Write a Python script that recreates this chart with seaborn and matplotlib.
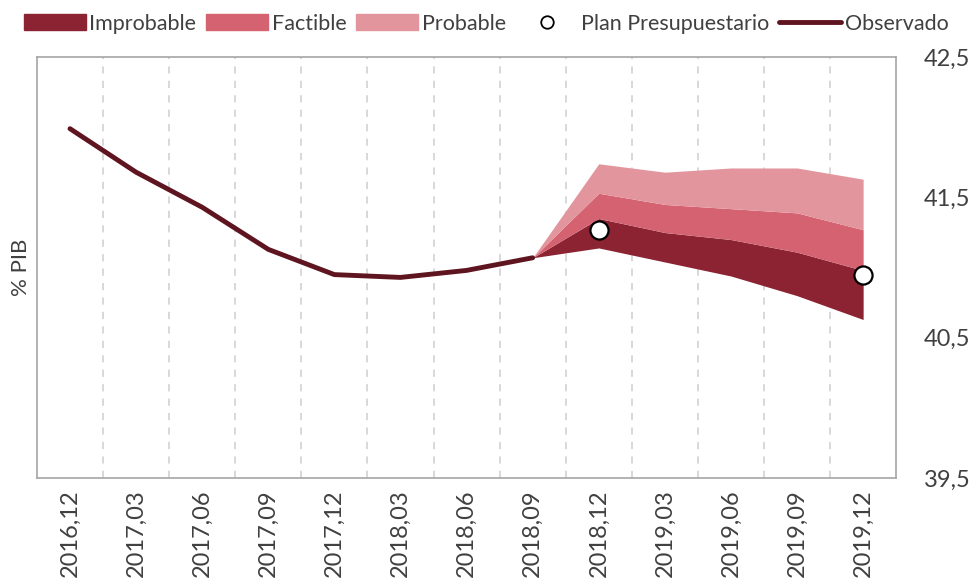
import numpy as np
import matplotlib.pyplot as plt
import seaborn as sns
from matplotlib.patches import Patch
from matplotlib.lines import Line2D

periods = ["2016,12", "2017,03", "2017,06", "2017,09", "2017,12", "2018,03", "2018,06",
           "2018,09", "2018,12", "2019,03", "2019,06", "2019,09", "2019,12"]
observed = [41.99, 41.68, 41.43, 41.13, 40.95, 40.93, 40.98, 41.07]

fan_periods = ["2018,09", "2018,12", "2019,03", "2019,06", "2019,09", "2019,12"]
fan_low = [41.07, 41.14, 41.04, 40.94, 40.80, 40.63]
improbable_top = [41.07, 41.35, 41.25, 41.20, 41.11, 40.98]
factible_top = [41.07, 41.53, 41.45, 41.42, 41.39, 41.27]
probable_top = [41.07, 41.74, 41.68, 41.71, 41.71, 41.63]

plan_periods = ["2018,12", "2019,12"]
plan_values = [41.27, 40.95]

c_improbable = "#8b2332"
c_factible = "#d46270"
c_probable = "#e3959e"
c_observed = "#5e1520"

sns.set_style("white")
plt.rcParams["font.family"] = ["Lato", "DejaVu Sans"]

pos = {p: i for i, p in enumerate(periods)}
xf = [pos[p] for p in fan_periods]

fig, ax = plt.subplots(figsize=(9.72, 5.83), dpi=100)
fig.subplots_adjust(left=0.038, right=0.922, top=0.902, bottom=0.18)

ax.fill_between(xf, fan_low, improbable_top, color=c_improbable, lw=0, zorder=2)
ax.fill_between(xf, improbable_top, factible_top, color=c_factible, lw=0, zorder=2)
ax.fill_between(xf, factible_top, probable_top, color=c_probable, lw=0, zorder=2)

sns.lineplot(x=list(range(len(observed))), y=observed, color=c_observed, lw=3.5, ax=ax, zorder=3)
sns.scatterplot(x=[pos[p] for p in plan_periods], y=plan_values, s=170, color="white",
                edgecolor="black", linewidth=1.6, ax=ax, zorder=4)

ax.set_xlim(-0.5, len(periods) - 0.5)
ax.set_ylim(39.5, 42.5)
ax.set_xticks(range(len(periods)))
ax.set_xticklabels(periods, rotation=90, fontsize=17, color="#404040")
ax.set_xticks(np.arange(0.5, len(periods) - 1, 1), minor=True)
ax.tick_params(axis="x", which="both", length=0, pad=8)
ax.grid(axis="x", which="minor", ls=(0, (4, 4)), color="#d6d6d6", lw=1.3)

ax.yaxis.tick_right()
ax.set_yticks([39.5, 40.5, 41.5, 42.5])
ax.set_yticklabels(["39,5", "40,5", "41,5", "42,5"], fontsize=17, color="#404040")
ax.tick_params(axis="y", length=0, pad=20)
ax.set_ylabel("% PIB", fontsize=16, color="#404040")
ax.yaxis.set_label_position("left")
ax.yaxis.labelpad = 4

for s in ax.spines.values():
    s.set_color("#a6a6a6")
    s.set_linewidth(1.2)

handles = [Patch(color=c_improbable), Patch(color=c_factible), Patch(color=c_probable),
           Line2D([], [], ls="none", marker="o", markersize=9, markerfacecolor="white",
                  markeredgecolor="black", markeredgewidth=1.3),
           Line2D([], [], color=c_observed, lw=3.5)]
labels = ["Improbable", "Factible", "Probable", "Plan Presupuestario", "Observado"]
fig.legend(handles, labels, loc="upper center", bbox_to_anchor=(0.5, 1.01), ncol=5,
           frameon=False, fontsize=15.5, handlelength=2.9, handletextpad=0.15,
           columnspacing=0.45, labelcolor="#404040")

fig.savefig("out.png", dpi=100)
